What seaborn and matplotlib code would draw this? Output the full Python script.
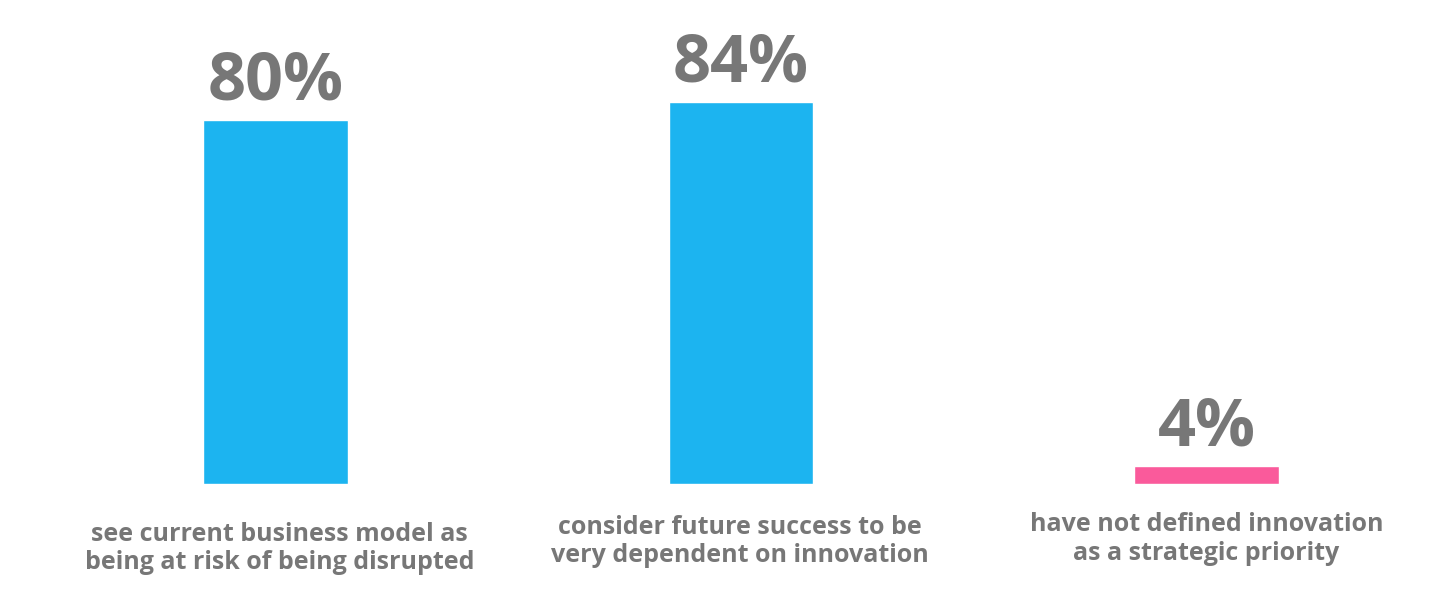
import matplotlib
matplotlib.use("Agg")
import matplotlib.pyplot as plt
import seaborn as sns

# chart data
categories = [
    "see current business model as\nbeing at risk of being disrupted",
    "consider future success to be\nvery dependent on innovation",
    "have not defined innovation\nas a strategic priority",
]
values = [80, 84, 4]
value_labels = ["80%", "84%", "4%"]
bar_colors = ["#1CB4F0", "#1CB4F0", "#FA5A9B"]

# label offset from the bar base (points), per category
label_dx = [3, -1, 0]
label_drop = [27, 22, 20]

sns.set_theme(style="white")
plt.rcParams["font.family"] = ["Open Sans", "DejaVu Sans"]

fig = plt.figure(figsize=(14.45, 5.91), dpi=100)
ax = fig.add_axes([0.0296, 0.181, 0.9664, 0.770])

sns.barplot(
    x=categories,
    y=values,
    hue=categories,
    palette=bar_colors,
    width=0.311,
    saturation=1,
    legend=False,
    ax=ax,
)

# percentage labels on top of bars
for container, lab in zip(ax.containers, value_labels):
    ax.bar_label(container, labels=[lab], padding=3, fontsize=48,
                 fontweight="bold", color="#777777")

# category text under each bar
for i, (cat, dx, drop) in enumerate(zip(categories, label_dx, label_drop)):
    ax.annotate(cat, xy=(i, 0), xytext=(dx, -drop), textcoords="offset points",
                ha="center", va="top", fontsize=18, fontweight="bold",
                color="#777777", linespacing=1.2)

ax.set_xlim(-0.5, 2.5)
ax.set_ylim(0, 100)
ax.set_xticks([])
ax.set_yticks([])
sns.despine(ax=ax, left=True, bottom=True)

fig.savefig("out.png", dpi=100, facecolor="white")
